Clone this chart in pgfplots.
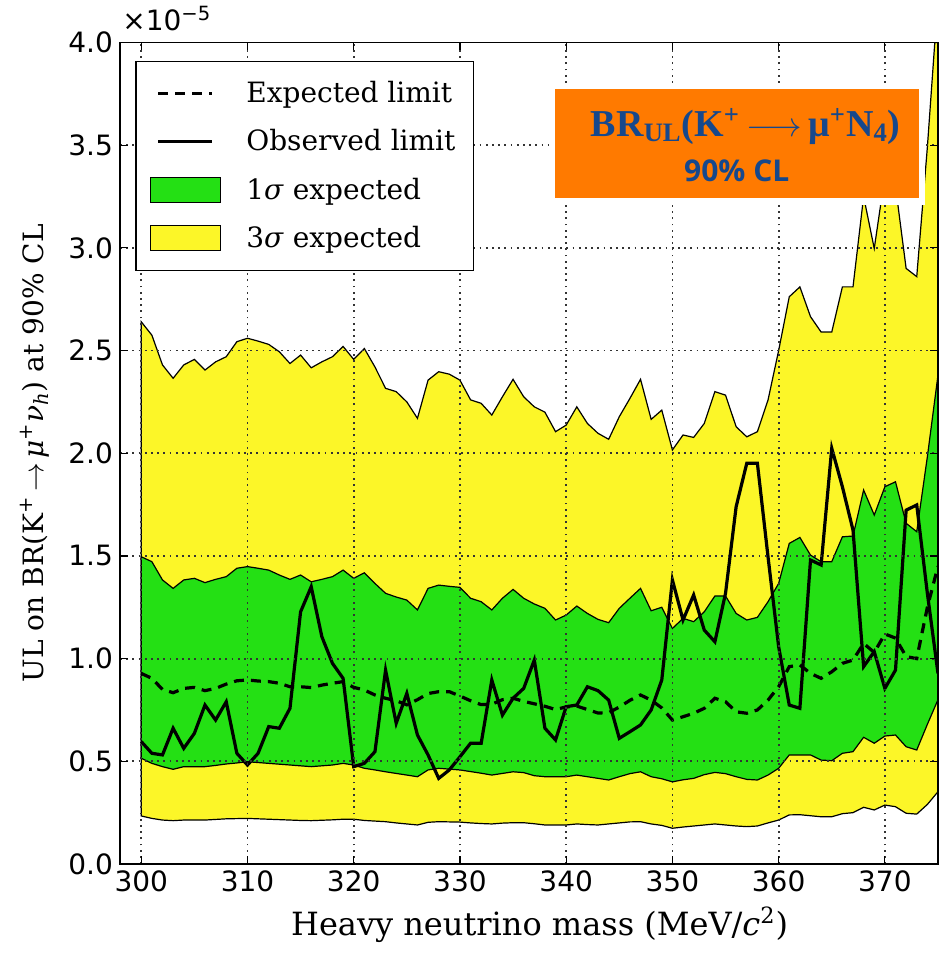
\documentclass[border=0pt]{standalone}
\usepackage{fontspec}
\setmainfont{DejaVu Serif}
\setsansfont{DejaVu Sans}
\newfontfamily\brfont{Liberation Serif}
\newfontfamily\clfont{Open Sans}
\usepackage{pgfplots}
\pgfplotsset{compat=1.18}
\definecolor{yel}{RGB}{252,246,40}
\definecolor{grn}{RGB}{36,224,20}
\definecolor{orng}{RGB}{255,122,0}
\definecolor{brblue}{RGB}{22,72,140}
\pgfplotsset{
  myline/.style={legend image code/.code={\draw[##1] (4pt,0pt) -- (31pt,0pt); \path[draw=none, fill=none] (0pt,0pt) -- (46pt,0pt);}},
  myrect/.style={legend image code/.code={\draw[##1] (0pt,-6.25pt) rectangle (35pt,6.25pt); \path[draw=none, fill=none] (0pt,0pt) -- (46pt,0pt);}},
}
\begin{document}
\begin{tikzpicture}
\useasboundingbox (-60pt,-44.5pt) rectangle (415.5pt,432pt);
\begin{axis}[
  at={(0pt,0pt)}, anchor=south west,
  scale only axis, width=409pt, height=410.75pt,
  xmin=298, xmax=375, ymin=0, ymax=4,
  xtick={300,310,...,370}, ytick={0,0.5,...,4},
  axis on top,
  grid=major,
  major grid style={black!80, line width=0.9pt, dash pattern=on 0.9pt off 2.2pt},
  axis line style={line width=0.8pt},
  tick style={black, line width=0.6pt},
  major tick length=4pt,
  /pgf/number format/assume math mode=true,
  ticklabel style={font=\sffamily\fontsize{14}{16}\selectfont},
  yticklabel style={/pgf/number format/.cd, fixed, fixed zerofill, precision=1},
  xticklabel style={/pgf/number format/.cd, set thousands separator={}},
  xlabel={Heavy neutrino mass (MeV/\textit{c}\textsuperscript{2})},
  ylabel={UL on BR(K\textsuperscript{+}\,$\rightarrow$\,\textit{μ}\textsuperscript{+}\textit{ν}\textsubscript{\textit{h}}) at 90\% CL},
  xlabel style={font=\fontsize{16}{19}\selectfont, at={(axis description cs:0.513,-0.074)}, anchor=center},
  ylabel style={font=\fontsize{14}{17}\selectfont, at={(axis description cs:-0.104,0.5)}, anchor=center, rotate=0},
  legend style={at={(rel axis cs:0.0183,0.978)}, anchor=north west, draw=black, line width=0.8pt,
    font=\fontsize{14}{16}\selectfont, row sep=8pt, inner xsep=7pt, inner ysep=8pt,
    cells={anchor=west}},
  legend cell align=left,
]
% 3 sigma band
\addplot[fill=yel, draw=black, line width=0.6pt, forget plot] coordinates {
(300,2.64)(301,2.575)(302,2.43)(303,2.365)(304,2.43)(305,2.457)(306,2.405)(307,2.445)(308,2.47)(309,2.543)(310,2.56)(311,2.546)(312,2.53)(313,2.494)(314,2.437)(315,2.478)(316,2.416)(317,2.445)(318,2.47)(319,2.52)(320,2.457)(321,2.51)(322,2.42)(323,2.316)(324,2.30)(325,2.25)(326,2.17)(327,2.356)(328,2.397)(329,2.385)(330,2.356)(331,2.26)(332,2.243)(333,2.186)(334,2.275)(335,2.36)(336,2.275)(337,2.226)(338,2.20)(339,2.105)(340,2.137)(341,2.226)(342,2.145)(343,2.097)(344,2.068)(345,2.178)(346,2.267)(347,2.36)(348,2.165)(349,2.21)(350,2.016)(351,2.089)(352,2.077)(353,2.145)(354,2.30)(355,2.283)(356,2.129)(357,2.08)(358,2.105)(359,2.259)(360,2.50)(361,2.762)(362,2.81)(363,2.665)(364,2.59)(365,2.59)(366,2.81)(367,2.81)(368,3.25)(369,2.997)(370,3.35)(371,3.3)(372,2.90)(373,2.86)(374,3.49)(374.7,4.0)(375,4.0)
(375,0.352)(374,0.29)(373,0.243)(372,0.247)(371,0.279)(370,0.287)(369,0.263)(368,0.276)(367,0.25)(366,0.245)(365,0.23)(364,0.23)(363,0.235)(362,0.24)(361,0.239)(360,0.214)(359,0.2)(358,0.185)(357,0.182)(356,0.185)(355,0.19)(354,0.195)(353,0.19)(352,0.185)(351,0.18)(350,0.174)(349,0.188)(348,0.195)(347,0.206)(346,0.205)(345,0.2)(344,0.195)(343,0.19)(342,0.192)(341,0.195)(340,0.19)(339,0.19)(338,0.19)(337,0.196)(336,0.201)(335,0.201)(334,0.199)(333,0.195)(332,0.197)(331,0.2)(330,0.204)(329,0.205)(328,0.206)(327,0.203)(326,0.19)(325,0.195)(324,0.2)(323,0.206)(322,0.209)(321,0.212)(320,0.218)(319,0.218)(318,0.215)(317,0.213)(316,0.211)(315,0.212)(314,0.214)(313,0.216)(312,0.218)(311,0.22)(310,0.222)(309,0.221)(308,0.22)(307,0.217)(306,0.214)(305,0.214)(304,0.214)(303,0.211)(302,0.214)(301,0.222)(300,0.234)
} -- cycle;
% 1 sigma band
\addplot[fill=grn, draw=black, line width=0.6pt, forget plot] coordinates {
(300,1.496)(301,1.472)(302,1.383)(303,1.342)(304,1.383)(305,1.391)(306,1.37)(307,1.386)(308,1.399)(309,1.44)(310,1.448)(311,1.44)(312,1.431)(313,1.407)(314,1.386)(315,1.407)(316,1.374)(317,1.386)(318,1.399)(319,1.431)(320,1.391)(321,1.418)(322,1.366)(323,1.318)(324,1.30)(325,1.285)(326,1.237)(327,1.342)(328,1.358)(329,1.352)(330,1.347)(331,1.294)(332,1.277)(333,1.237)(334,1.294)(335,1.337)(336,1.294)(337,1.266)(338,1.245)(339,1.188)(340,1.212)(341,1.256)(342,1.22)(343,1.191)(344,1.175)(345,1.245)(346,1.294)(347,1.342)(348,1.233)(349,1.25)(350,1.147)(351,1.196)(352,1.18)(353,1.228)(354,1.305)(355,1.305)(356,1.22)(357,1.188)(358,1.201)(359,1.277)(360,1.366)(361,1.561)(362,1.59)(363,1.504)(364,1.472)(365,1.472)(366,1.593)(367,1.597)(368,1.821)(369,1.699)(370,1.837)(371,1.861)(372,1.659)(373,1.618)(374,1.983)(375,2.38)
(375,0.80)(374,0.68)(373,0.555)(372,0.571)(371,0.628)(370,0.623)(369,0.588)(368,0.617)(367,0.547)(366,0.539)(365,0.503)(364,0.506)(363,0.531)(362,0.531)(361,0.531)(360,0.466)(359,0.433)(358,0.409)(357,0.412)(356,0.425)(355,0.44)(354,0.446)(353,0.435)(352,0.417)(351,0.41)(350,0.40)(349,0.415)(348,0.425)(347,0.449)(346,0.44)(345,0.425)(344,0.409)(343,0.417)(342,0.425)(341,0.433)(340,0.425)(339,0.425)(338,0.425)(337,0.43)(336,0.445)(335,0.449)(334,0.441)(333,0.433)(332,0.442)(331,0.45)(330,0.458)(329,0.462)(328,0.466)(327,0.458)(326,0.425)(325,0.433)(324,0.441)(323,0.449)(322,0.458)(321,0.466)(320,0.482)(319,0.49)(318,0.482)(317,0.478)(316,0.474)(315,0.478)(314,0.482)(313,0.486)(312,0.49)(311,0.494)(310,0.498)(309,0.492)(308,0.487)(307,0.48)(306,0.474)(305,0.474)(304,0.474)(303,0.461)(302,0.474)(301,0.49)(300,0.515)
} -- cycle;
% expected limit
\addplot[black, line width=1.6pt, dash pattern=on 5pt off 3.5pt, forget plot] coordinates {
(300,0.928)(301,0.904)(302,0.85)(303,0.834)(304,0.855)(305,0.86)(306,0.844)(307,0.855)(308,0.876)(309,0.892)(310,0.896)(311,0.891)(312,0.888)(313,0.88)(314,0.863)(315,0.863)(316,0.859)(317,0.871)(318,0.88)(319,0.888)(320,0.86)(321,0.847)(322,0.823)(323,0.807)(324,0.795)(325,0.775)(326,0.80)(327,0.83)(328,0.839)(329,0.839)(330,0.818)(331,0.795)(332,0.776)(333,0.778)(334,0.80)(335,0.807)(336,0.792)(337,0.78)(338,0.768)(339,0.752)(340,0.765)(341,0.769)(342,0.752)(343,0.735)(344,0.737)(345,0.764)(346,0.797)(347,0.823)(348,0.798)(349,0.76)(350,0.701)(351,0.717)(352,0.734)(353,0.758)(354,0.807)(355,0.79)(356,0.741)(357,0.734)(358,0.75)(359,0.798)(360,0.863)(361,0.961)(362,0.969)(363,0.928)(364,0.904)(365,0.936)(366,0.977)(367,0.993)(368,1.074)(369,1.03)(370,1.12)(371,1.10)(372,1.01)(373,1.0)(374,1.25)(375,1.45)
};
% observed limit
\addplot[black, line width=1.6pt, forget plot] coordinates {
(300,0.596)(301,0.539)(302,0.531)(303,0.661)(304,0.563)(305,0.636)(306,0.774)(307,0.701)(308,0.79)(309,0.539)(310,0.482)(311,0.539)(312,0.669)(313,0.661)(314,0.758)(315,1.228)(316,1.35)(317,1.107)(318,0.977)(319,0.904)(320,0.474)(321,0.49)(322,0.547)(323,0.944)(324,0.685)(325,0.831)(326,0.628)(327,0.531)(328,0.417)(329,0.458)(330,0.522)(331,0.588)(332,0.588)(333,0.896)(334,0.725)(335,0.807)(336,0.855)(337,0.993)(338,0.661)(339,0.604)(340,0.766)(341,0.774)(342,0.863)(343,0.844)(344,0.798)(345,0.612)(346,0.644)(347,0.677)(348,0.75)(349,0.896)(350,1.383)(351,1.188)(352,1.31)(353,1.139)(354,1.082)(355,1.318)(356,1.74)(357,1.951)(358,1.951)(359,1.496)(360,1.058)(361,0.774)(362,0.758)(363,1.48)(364,1.456)(365,2.024)(366,1.837)(367,1.626)(368,0.961)(369,1.034)(370,0.855)(371,0.944)(372,1.723)(373,1.748)(374,1.318)(375,0.928)
};
\addlegendimage{myline, black, line width=1.6pt, dash pattern=on 5pt off 3.5pt}
\addlegendentry{Expected limit}
\addlegendimage{myline, black, line width=1.6pt}
\addlegendentry{Observed limit}
\addlegendimage{myrect, fill=grn, draw=black, line width=0.6pt}
\addlegendentry{1\textit{σ} expected}
\addlegendimage{myrect, fill=yel, draw=black, line width=0.6pt}
\addlegendentry{3\textit{σ} expected}
\coordinate (wA) at (rel axis cs:0.5244,0.8022);
\coordinate (wB) at (rel axis cs:0.984,0.9507);
\coordinate (oA) at (rel axis cs:0.5318,0.8107);
\coordinate (oB) at (rel axis cs:0.9768,0.9434);
\coordinate (t1) at (rel axis cs:0.765,0.886);
\coordinate (t2) at (rel axis cs:0.754,0.831);
\coordinate (tl) at (rel axis cs:0,1);
\end{axis}
\fill[white] (wA) rectangle (wB);
\fill[orng] (oA) rectangle (oB);
\node[font=\brfont\bfseries\fontsize{19}{23}\selectfont, text=brblue, anchor=base] at (t1) {BR\textsubscript{UL}(K\textsuperscript{+}\,$\longrightarrow$\,μ\textsuperscript{+}N\textsubscript{4})};
\node[font=\clfont\bfseries\fontsize{15}{18}\selectfont, text=brblue, anchor=base] at (t2) {90\% CL};
\node[font=\sffamily\fontsize{14}{16}\selectfont, anchor=base west, inner sep=0pt] at ([xshift=1pt, yshift=6pt]tl) {×10\textsuperscript{−5}};
\end{tikzpicture}
\end{document}
